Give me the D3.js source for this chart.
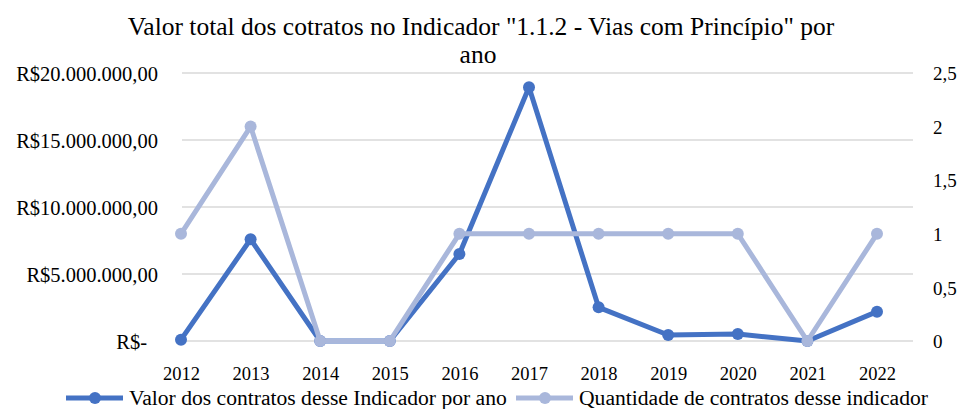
<!DOCTYPE html>
<html>
<head>
<meta charset="utf-8">
<script src="https://cdn.jsdelivr.net/npm/d3@7"></script>
<style>
  body { margin: 0; background: #fff; }
</style>
</head>
<body>
<div id="chart"></div>
<script>
const years = ["2012","2013","2014","2015","2016","2017","2018","2019","2020","2021","2022"];
const valores = [100000, 7590000, 0, 0, 6490000, 18930000, 2510000, 450000, 520000, 0, 2190000];
const quantidades = [1, 2, 0, 0, 1, 1, 1, 1, 1, 0, 1];
const leftTicks = [0, 5000000, 10000000, 15000000, 20000000];
const rightTicks = [0, 0.5, 1, 1.5, 2, 2.5];
const seriesNames = ["Valor dos contratos desse Indicador por ano", "Quantidade de contratos desse indicador"];

const width = 960, height = 409;
const plot = {left: 182, right: 913, top: 73, bottom: 341};
const colors = ["#4472C4", "#A9B7DB"];
const font = "Liberation Serif";

const svg = d3.select("#chart").append("svg")
  .attr("width", width)
  .attr("height", height);

const x = d3.scalePoint().domain(years).range([181, 877]);
const yLeft = d3.scaleLinear().domain([0, 20000000]).range([plot.bottom, plot.top]);
const yRight = d3.scaleLinear().domain([0, 2.5]).range([plot.bottom, plot.top]);

// title (2 lines, wrapped like excel)
svg.append("text")
  .attr("x", 481).attr("y", 35)
  .attr("text-anchor", "middle")
  .style("font-family", font)
  .style("font-size", "25.5px")
  .text('Valor total dos cotratos no Indicador "1.1.2 - Vias com Princípio"  por');
svg.append("text")
  .attr("x", 478).attr("y", 63)
  .attr("text-anchor", "middle")
  .style("font-family", font)
  .style("font-size", "25.5px")
  .text("ano");

// gridlines
svg.append("g")
  .selectAll("line")
  .data(leftTicks)
  .join("line")
  .attr("x1", plot.left).attr("x2", plot.right)
  .attr("y1", d => yLeft(d)).attr("y2", d => yLeft(d))
  .attr("stroke", "#D9D9D9")
  .attr("stroke-width", 1.3);

const fmtBR = d => d === 0 ? "R$-" : "R$" + d3.format(",.2f")(d).replace(/,/g, "#").replace(/\./g, ",").replace(/#/g, ".");

// left axis
const gl = svg.append("g")
  .attr("transform", `translate(${plot.left},0)`)
  .call(d3.axisLeft(yLeft).tickValues(leftTicks).tickSize(0).tickPadding(24).tickFormat(fmtBR));
gl.select(".domain").remove();
gl.selectAll("text")
  .style("font-family", font).style("font-size", "20.5px").style("fill", "#000")
  .attr("dy", "0.35em")
  .attr("dx", d => d === 0 ? -11 : 0);

// right axis
const gr = svg.append("g")
  .attr("transform", `translate(${plot.right},0)`)
  .call(d3.axisRight(yRight).tickValues(rightTicks).tickSize(0).tickPadding(20).tickFormat(d => String(d).replace(".", ",")));
gr.select(".domain").remove();
gr.selectAll("text")
  .style("font-family", font).style("font-size", "19px").style("fill", "#000")
  .attr("dy", "0.35em");

// x axis
const gx = svg.append("g")
  .attr("transform", `translate(0,${plot.bottom})`)
  .call(d3.axisBottom(x).tickSize(0).tickPadding(26));
gx.select(".domain").remove();
gx.selectAll("text")
  .style("font-family", font).style("font-size", "18.5px").style("fill", "#000");

// lines: secondary-axis series (light) drawn on top, like excel
const series = [
  {vals: valores, y: yLeft, color: colors[0]},
  {vals: quantidades, y: yRight, color: colors[1]}
];
series.forEach(s => {
  const line = d3.line().x((d, i) => x(years[i])).y(d => s.y(d));
  svg.append("path")
    .datum(s.vals)
    .attr("fill", "none")
    .attr("stroke", s.color)
    .attr("stroke-width", 5)
    .attr("stroke-linejoin", "round")
    .attr("d", line);
  svg.append("g").selectAll("circle")
    .data(s.vals)
    .join("circle")
    .attr("cx", (d, i) => x(years[i]))
    .attr("cy", d => s.y(d))
    .attr("r", 6)
    .attr("fill", s.color);
});

// legend
const legendX = [66, 516];
seriesNames.forEach((name, i) => {
  const g = svg.append("g").attr("transform", `translate(${legendX[i]},398)`);
  g.append("line").attr("x1", 0).attr("x2", 57).attr("y1", 0).attr("y2", 0)
    .attr("stroke", colors[i]).attr("stroke-width", 5);
  g.append("circle").attr("cx", 29).attr("cy", 0).attr("r", 6).attr("fill", colors[i]);
  g.append("text").attr("x", 63).attr("y", 6.5)
    .style("font-family", font).style("font-size", "21.6px").style("fill", "#000")
    .text(name);
});
</script>
</body>
</html>
